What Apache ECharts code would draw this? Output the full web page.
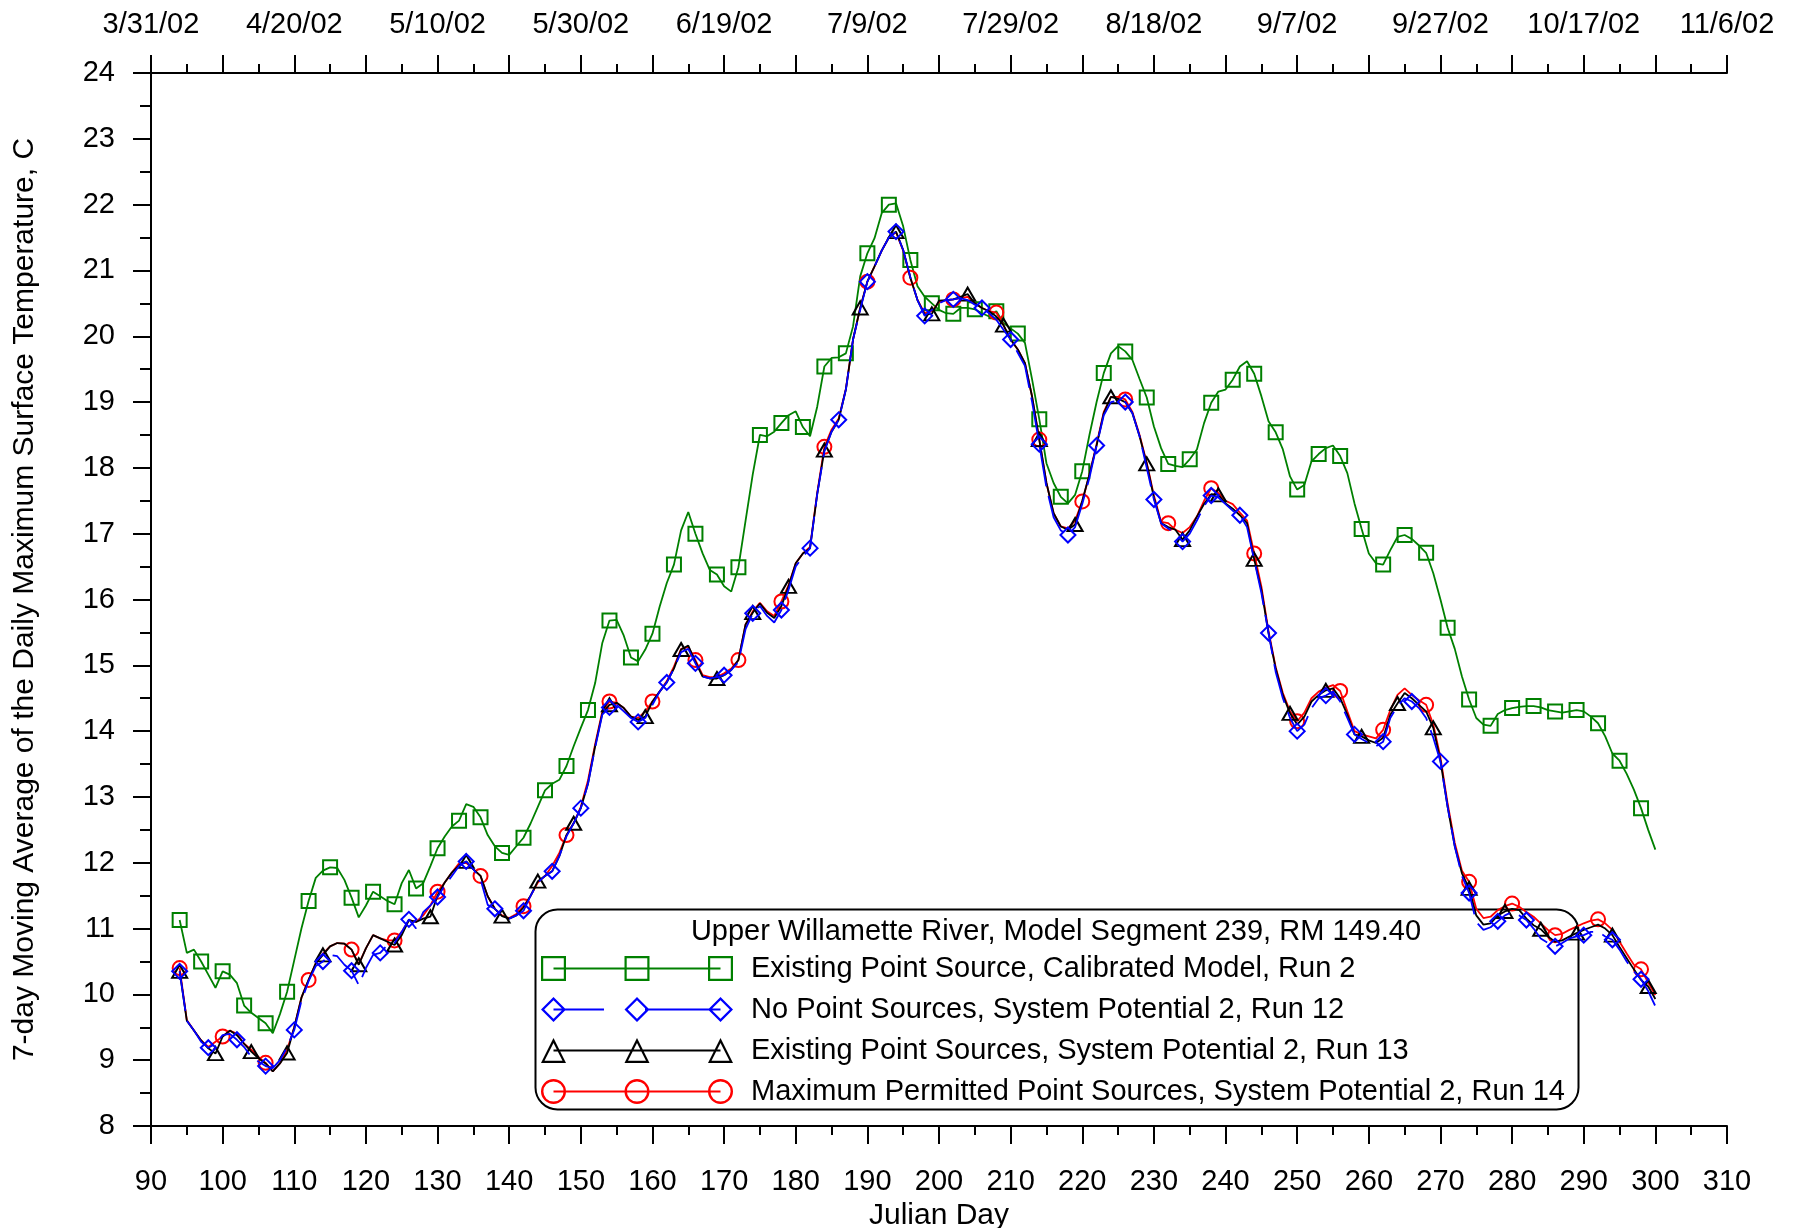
<!DOCTYPE html>
<html>
<head>
<meta charset="utf-8">
<script src="https://cdn.jsdelivr.net/npm/echarts@6/dist/echarts.min.js"></script>
<style>html,body{margin:0;padding:0;background:#fff}#c{width:1797px;height:1228px}</style>
</head>
<body>
<div id="c"></div>
<script>
// ---------------- DATA ----------------
const startDay = 94; // first day of every series (one value per day)
const topDateLabels = ["3/31/02","4/20/02","5/10/02","5/30/02","6/19/02","7/9/02","7/29/02","8/18/02","9/7/02","9/27/02","10/17/02","11/6/02"];
const legendTitle = "Upper Willamette River, Model Segment 239, RM 149.40";
const seriesNames = [
  "Existing Point Source, Calibrated Model, Run 2",
  "No Point Sources, System Potential 2, Run 12",
  "Existing Point Sources, System Potential 2, Run 13",
  "Maximum Permitted Point Sources, System Potential 2, Run 14"
];
// Run 2 (green squares, marker every 3 days)
const run2 = [
  11.13,10.63,10.68,10.50,10.30,10.10,10.35,10.30,10.17,9.83,
  9.72,9.64,9.56,9.41,9.70,10.04,10.52,11.00,11.42,11.77,
  11.88,11.93,11.92,11.74,11.47,11.17,11.35,11.56,11.49,11.42,
  11.37,11.69,11.89,11.61,11.69,11.95,12.22,12.40,12.55,12.64,
  12.89,12.85,12.69,12.42,12.25,12.15,12.12,12.25,12.38,12.60,
  12.85,13.10,13.20,13.26,13.47,13.77,14.05,14.32,14.73,15.34,
  15.68,15.69,15.45,15.12,15.06,15.24,15.48,15.89,16.25,16.53,
  17.05,17.33,17.00,16.70,16.45,16.38,16.20,16.12,16.49,17.20,
  17.90,18.50,18.48,18.55,18.68,18.80,18.86,18.62,18.48,18.93,
  19.54,19.67,19.68,19.74,20.15,20.91,21.26,21.49,21.87,22.00,
  22.02,21.67,21.16,20.76,20.60,20.50,20.40,20.35,20.34,20.43,
  20.43,20.41,20.35,20.30,20.38,20.20,20.12,20.04,19.90,19.34,
  18.74,18.07,17.77,17.56,17.46,17.59,17.95,18.50,19.00,19.44,
  19.74,19.85,19.77,19.64,19.35,19.07,18.63,18.30,18.06,18.03,
  18.01,18.13,18.28,18.68,18.99,19.16,19.19,19.34,19.54,19.62,
  19.43,19.09,18.71,18.54,18.28,17.87,17.67,17.74,18.10,18.21,
  18.30,18.34,18.18,17.92,17.46,17.07,16.70,16.55,16.53,16.75,
  16.95,16.98,16.92,16.82,16.71,16.40,16.00,15.57,15.25,14.83,
  14.48,14.20,14.10,14.08,14.26,14.32,14.35,14.37,14.38,14.38,
  14.36,14.32,14.30,14.28,14.30,14.32,14.30,14.22,14.12,13.92,
  13.66,13.55,13.35,13.11,12.83,12.50,12.20
];
// Run 12 (blue diamonds, marker every 4 days)
const run12 = [
  10.35,9.60,9.45,9.28,9.19,9.25,9.38,9.40,9.31,9.20,
  9.05,8.98,8.91,8.88,9.00,9.20,9.46,9.90,10.20,10.43,
  10.50,10.60,10.58,10.45,10.36,10.14,10.40,10.60,10.63,10.75,
  10.78,10.95,11.14,11.00,11.25,11.35,11.48,11.65,11.80,11.95,
  12.02,11.90,11.75,11.36,11.30,11.20,11.15,11.20,11.27,11.50,
  11.70,11.80,11.87,12.10,12.40,12.60,12.83,13.20,13.75,14.25,
  14.36,14.40,14.30,14.20,14.14,14.20,14.40,14.60,14.74,14.95,
  15.20,15.25,15.03,14.83,14.80,14.82,14.85,14.93,15.05,15.55,
  15.79,15.90,15.75,15.65,15.84,16.15,16.50,16.65,16.78,17.60,
  18.25,18.55,18.73,19.19,19.95,20.40,20.83,21.06,21.30,21.50,
  21.59,21.31,20.90,20.55,20.31,20.40,20.50,20.55,20.56,20.58,
  20.55,20.48,20.43,20.35,20.25,20.10,19.95,19.75,19.55,19.00,
  18.36,17.70,17.25,17.05,16.98,17.10,17.45,17.85,18.34,18.80,
  19.00,19.02,19.00,18.83,18.48,18.00,17.52,17.16,17.08,17.00,
  16.88,17.00,17.20,17.42,17.58,17.55,17.45,17.35,17.28,17.10,
  16.60,16.10,15.49,14.90,14.50,14.20,14.00,14.10,14.35,14.50,
  14.54,14.60,14.45,14.20,13.95,13.88,13.82,13.77,13.84,14.20,
  14.38,14.50,14.45,14.35,14.20,13.90,13.54,12.85,12.25,11.80,
  11.54,11.10,10.98,11.02,11.11,11.20,11.25,11.20,11.13,11.00,
  10.85,10.78,10.73,10.78,10.85,10.88,10.90,10.95,10.95,10.88,
  10.83,10.68,10.50,10.35,10.23,10.05,9.82
];
// Run 13 (black triangles, marker every 5 days)
const run13 = [
  10.35,9.60,9.45,9.30,9.18,9.10,9.36,9.45,9.38,9.25,
  9.13,9.03,8.95,8.83,8.95,9.11,9.50,9.95,10.22,10.47,
  10.60,10.73,10.78,10.77,10.68,10.45,10.70,10.90,10.85,10.80,
  10.75,10.90,11.13,11.10,11.15,11.18,11.50,11.70,11.85,11.96,
  12.02,11.90,11.80,11.49,11.30,11.19,11.15,11.20,11.32,11.50,
  11.72,11.80,11.87,12.10,12.42,12.60,12.83,13.20,13.77,14.27,
  14.40,14.43,14.35,14.22,14.17,14.22,14.45,14.60,14.74,14.95,
  15.24,15.30,15.05,14.83,14.80,14.80,14.85,14.93,15.08,15.62,
  15.80,15.94,15.80,15.72,15.90,16.20,16.55,16.70,16.78,17.60,
  18.27,18.55,18.73,19.19,19.95,20.43,20.83,21.06,21.30,21.50,
  21.59,21.31,20.89,20.55,20.33,20.34,20.54,20.55,20.56,20.60,
  20.64,20.50,20.43,20.38,20.30,20.17,19.95,19.80,19.59,19.08,
  18.43,17.77,17.31,17.11,17.06,17.14,17.50,17.90,18.34,18.83,
  19.08,19.05,19.00,18.83,18.48,18.06,17.55,17.16,17.10,17.06,
  16.91,17.05,17.26,17.45,17.60,17.59,17.46,17.38,17.28,17.16,
  16.61,16.15,15.49,14.95,14.55,14.27,14.10,14.22,14.45,14.55,
  14.62,14.65,14.50,14.25,13.95,13.92,13.86,13.82,13.90,14.25,
  14.42,14.58,14.50,14.40,14.30,14.05,13.55,12.85,12.25,11.84,
  11.61,11.20,11.06,11.08,11.20,11.26,11.30,11.28,11.15,11.05,
  10.99,10.88,10.80,10.82,10.88,10.93,10.98,11.02,11.06,11.00,
  10.90,10.72,10.55,10.38,10.22,10.12,9.93
];
// Run 14 (red circles, marker every 6 days)
const run14 = [
  10.40,9.61,9.45,9.30,9.20,9.28,9.36,9.45,9.40,9.25,
  9.16,9.05,8.96,8.83,8.95,9.16,9.50,9.95,10.22,10.47,
  10.62,10.73,10.78,10.77,10.68,10.46,10.70,10.90,10.85,10.82,
  10.82,10.95,11.13,11.10,11.20,11.35,11.56,11.70,11.85,11.99,
  12.00,11.90,11.80,11.49,11.30,11.20,11.16,11.22,11.34,11.50,
  11.70,11.80,11.95,12.15,12.42,12.60,12.85,13.25,13.80,14.30,
  14.45,14.43,14.35,14.22,14.20,14.30,14.45,14.60,14.76,14.98,
  15.25,15.28,15.08,14.85,14.82,14.82,14.88,14.95,15.08,15.62,
  15.82,15.95,15.82,15.75,15.97,16.22,16.55,16.70,16.80,17.62,
  18.32,18.58,18.75,19.20,19.95,20.43,20.83,21.06,21.30,21.50,
  21.58,21.30,20.89,20.55,20.35,20.38,20.52,20.55,20.56,20.58,
  20.60,20.50,20.43,20.38,20.36,20.17,19.95,19.80,19.59,19.08,
  18.43,17.77,17.31,17.11,17.08,17.20,17.49,17.90,18.36,18.85,
  19.08,19.08,19.04,18.85,18.50,18.08,17.58,17.18,17.16,17.06,
  17.01,17.10,17.26,17.50,17.69,17.62,17.50,17.45,17.32,17.20,
  16.70,16.20,15.52,14.97,14.58,14.30,14.15,14.28,14.50,14.60,
  14.66,14.70,14.61,14.30,14.00,13.95,13.92,13.89,14.02,14.32,
  14.55,14.65,14.55,14.47,14.40,14.10,13.60,12.90,12.30,11.88,
  11.71,11.30,11.16,11.18,11.28,11.34,11.38,11.33,11.25,11.18,
  11.08,10.98,10.90,10.92,10.98,11.03,11.08,11.12,11.14,11.08,
  10.98,10.80,10.62,10.45,10.38,10.18,9.99
];
const markerEvery = { run2: 3, run12: 4, run13: 5, run14: 6 };

// ---------------- STYLE / BUILD ----------------
const FONT = '"Liberation Sans", Arial, sans-serif';
const GREEN = '#008000', BLUE = '#0000ff', BLACK = '#000000', RED = '#ff0000';

function build(vals, step) {
  return vals.map((v, i) => {
    const d = startDay + i;
    return (i % step === 0) ? { value: [d, v] } : { value: [d, v], symbol: 'none' };
  });
}

// legend icon paths (filled shapes, 192 x 25 box)
const C = [12.5, 96, 179.5];
function hline(x1, x2) { return `M${x1} 11.5 H${x2} V13.5 H${x1} Z `; }
function sq(c) { const a = c - 12.5; return `M${a} 0 H${a+25} V25 H${a} Z M${a+2.2} 2.2 V22.8 H${a+22.8} V2.2 Z `; }
function dia(c) { return `M${c} 0 L${c+12.5} 12.5 L${c} 25 L${c-12.5} 12.5 Z M${c} 3.2 L${c-9.3} 12.5 L${c} 21.8 L${c+9.3} 12.5 Z `; }
function tri(c) { return `M${c} 0 L${c+12.5} 25 L${c-12.5} 25 Z M${c} 5 L${c-9} 22.8 L${c+9} 22.8 Z `; }
function cir(c) { const a = c - 12.5; return `M${a} 12.5 A12.5 12.5 0 1 1 ${a+25} 12.5 A12.5 12.5 0 1 1 ${a} 12.5 Z M${a+2.4} 12.5 A10.1 10.1 0 1 0 ${a+22.6} 12.5 A10.1 10.1 0 1 0 ${a+2.4} 12.5 Z `; }
const iconGreen = 'path://' + hline(12.5, 179.5) + C.map(sq).join('');
const iconBlue = 'path://' + hline(12.5, 63) + hline(104, 179.5) + C.map(dia).join('');
const iconBlack = 'path://' + hline(12.5, 179.5) + C.map(tri).join('');
const iconRed = 'path://' + hline(12.5, 179.5) + C.map(cir).join('');

const axisLineStyle = { color: '#000', width: 2 };
const labelStyle = { color: '#000', fontSize: 29, fontFamily: FONT };
const nameStyle = { color: '#000', fontSize: 30, fontFamily: FONT };

function xAxisBase(pos) {
  return {
    type: 'value', position: pos, min: 90, max: 310, interval: 10,
    axisLine: { show: true, onZero: false, lineStyle: axisLineStyle },
    axisTick: { show: true, inside: false, length: 18, lineStyle: axisLineStyle },
    minorTick: { show: true, splitNumber: 2, length: 9, lineStyle: axisLineStyle },
    splitLine: { show: false }, minorSplitLine: { show: false }
  };
}

const option = {
  animation: false,
  backgroundColor: '#fff',
  grid: { left: 151, right: 70, top: 73, bottom: 102, containLabel: false, outerBoundsMode: 'none' },
  xAxis: [
    Object.assign(xAxisBase('bottom'), {
      name: 'Julian Day', nameLocation: 'middle', nameGap: 67,
      nameTextStyle: nameStyle,
      axisLabel: Object.assign({ margin: 41 }, labelStyle)
    }),
    Object.assign(xAxisBase('top'), {
      axisLabel: Object.assign({
        margin: 34,
        formatter: v => { const k = (v - 90) / 20; return Number.isInteger(k) && topDateLabels[k] ? topDateLabels[k] : ''; }
      }, labelStyle)
    })
  ],
  yAxis: {
    type: 'value', min: 8, max: 24, interval: 1,
    name: '7-day Moving Average of the Daily Maximum Surface Temperature, C',
    nameLocation: 'middle', nameGap: 111, nameRotate: 90,
    nameTextStyle: nameStyle,
    axisLine: { show: true, onZero: false, lineStyle: axisLineStyle },
    axisTick: { show: true, inside: false, length: 18, lineStyle: axisLineStyle },
    minorTick: { show: true, splitNumber: 2, length: 11, lineStyle: axisLineStyle },
    splitLine: { show: false },
    axisLabel: Object.assign({ margin: 36 }, labelStyle)
  },
  legend: {
    show: true, orient: 'vertical', left: 541, top: 954,
    padding: 0, itemGap: 12, itemWidth: 192, itemHeight: 25,
    selectedMode: false,
    textStyle: { color: '#000', fontSize: 29, fontFamily: FONT, lineHeight: 29, padding: [0, 0, 0, 13] },
    data: [
      { name: seriesNames[0], icon: iconGreen, itemStyle: { color: GREEN, borderWidth: 0 } },
      { name: seriesNames[1], icon: iconBlue, itemStyle: { color: BLUE, borderWidth: 0 } },
      { name: seriesNames[2], icon: iconBlack, itemStyle: { color: BLACK, borderWidth: 0 } },
      { name: seriesNames[3], icon: iconRed, itemStyle: { color: RED, borderWidth: 0 } }
    ]
  },
  graphic: [
    { type: 'rect', left: 533, top: 907, z: 1, silent: true,
      shape: { width: 1043, height: 200, r: 22 },
      style: { fill: 'none', stroke: '#000', lineWidth: 2 } },
    { type: 'text', x: 1056, y: 932, z: 5, silent: true,
      style: { text: legendTitle, fill: '#000', font: '29px ' + FONT, textAlign: 'center', textVerticalAlign: 'middle' } }
  ],
  series: [
    { name: seriesNames[0], type: 'line', xAxisIndex: 0, data: build(run2, markerEvery.run2),
      symbol: 'rect', symbolSize: 14, showAllSymbol: true,
      lineStyle: { color: GREEN, width: 1.8 },
      itemStyle: { color: 'rgba(0,0,0,0)', borderColor: GREEN, borderWidth: 2 }, z: 2 },
    { name: seriesNames[3], type: 'line', xAxisIndex: 0, data: build(run14, markerEvery.run14),
      symbol: 'circle', symbolSize: 14, showAllSymbol: true,
      lineStyle: { color: RED, width: 1.8 },
      itemStyle: { color: 'rgba(0,0,0,0)', borderColor: RED, borderWidth: 2 }, z: 3 },
    { name: seriesNames[2], type: 'line', xAxisIndex: 0, data: build(run13, markerEvery.run13),
      symbol: 'triangle', symbolSize: [15, 13], showAllSymbol: true,
      lineStyle: { color: BLACK, width: 1.8 },
      itemStyle: { color: 'rgba(0,0,0,0)', borderColor: BLACK, borderWidth: 2 }, z: 4 },
    { name: seriesNames[1], type: 'line', xAxisIndex: 0, data: build(run12, markerEvery.run12),
      symbol: 'diamond', symbolSize: 15, showAllSymbol: true,
      lineStyle: { color: BLUE, width: 1.8, type: [40, 10] },
      itemStyle: { color: 'rgba(0,0,0,0)', borderColor: BLUE, borderWidth: 2 }, z: 5 }
  ]
};

const chart = echarts.init(document.getElementById('c'), null, { renderer: 'canvas' });
chart.setOption(option);
</script>
</body>
</html>
